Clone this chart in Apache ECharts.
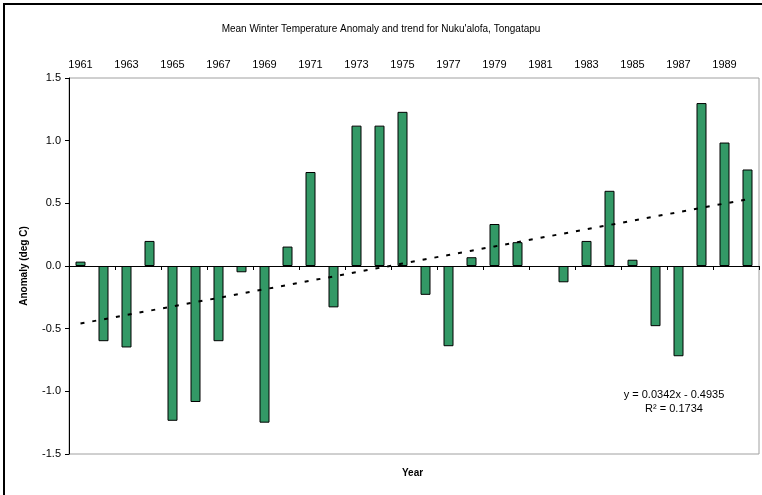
<!DOCTYPE html>
<html>
<head>
<meta charset="utf-8">
<script src="https://cdn.jsdelivr.net/npm/echarts@6/dist/echarts.min.js"></script>
<style>
  html, body { margin: 0; padding: 0; background: #fff; }
  #chart { width: 762px; height: 495px; }
</style>
</head>
<body>
<div id="chart"></div>
<script>
// data
const years = ['1961','1962','1963','1964','1965','1966','1967','1968','1969','1970',
  '1971','1972','1973','1974','1975','1976','1977','1978','1979','1980',
  '1981','1982','1983','1984','1985','1986','1987','1988','1989','1990']
const anomaly = [0.035, -0.60, -0.65, 0.20, -1.235, -1.085, -0.60, -0.05, -1.25, 0.155,
  0.75, -0.33, 1.12, 1.12, 1.23, -0.23, -0.64, 0.07, 0.335, 0.19,
  null, -0.13, 0.20, 0.60, 0.05, -0.48, -0.72, 1.30, 0.985, 0.77]
const yTicks = [-1.5, -1.0, -0.5, 0.0, 0.5, 1.0, 1.5]

// linear trend as printed on the chart
const slope = 0.0342
const intercept = -0.4935
const trend = years.map((y, i) => +(slope * (i + 1) + intercept).toFixed(4))

const font = 'Liberation Sans, Arial, sans-serif'
const myChart = echarts.init(document.getElementById('chart'))

const option = {
  animation: false,
  backgroundColor: '#fff',
  title: {
    text: "Mean Winter Temperature Anomaly and trend for Nuku'alofa, Tongatapu",
    left: 'center',
    top: 19,
    textStyle: { color: '#000', fontSize: 10, fontWeight: 'normal', fontFamily: font }
  },
  grid: {
    left: 69, right: 3, top: 78, bottom: 41,
    show: true,
    borderColor: '#a0a0a0',
    borderWidth: 1
  },
  xAxis: [
    {
      type: 'category',
      data: years,
      position: 'bottom',
      axisLine: { onZero: true, lineStyle: { color: '#000', width: 1 } },
      axisTick: { show: true, length: 4, lineStyle: { color: '#000' } },
      axisLabel: { show: false },
      splitLine: { show: false }
    },
    {
      type: 'category',
      data: years,
      position: 'top',
      axisLine: { show: false, onZero: false },
      axisTick: { show: false },
      axisLabel: {
        interval: 1,
        margin: 8,
        color: '#000',
        fontSize: 11,
        fontFamily: font
      },
      splitLine: { show: false }
    }
  ],
  yAxis: {
    type: 'value',
    min: yTicks[0],
    max: yTicks[yTicks.length - 1],
    interval: 0.5,
    name: 'Anomaly (deg C)',
    nameLocation: 'middle',
    nameGap: 40,
    nameTextStyle: { color: '#000', fontSize: 10, fontWeight: 'bold', fontFamily: font },
    axisLine: { show: true, lineStyle: { color: '#000', width: 1 } },
    axisTick: { show: true, length: 4, lineStyle: { color: '#000' } },
    axisLabel: {
      color: '#000',
      fontSize: 11,
      fontFamily: font,
      margin: 8,
      formatter: v => v.toFixed(1)
    },
    splitLine: { show: false }
  },
  series: [
    {
      name: 'Anomaly',
      type: 'bar',
      xAxisIndex: 0,
      data: anomaly,
      barWidth: 10,
      itemStyle: { color: '#339966', borderColor: '#000', borderWidth: 1 }
    },
    {
      name: 'Trend',
      type: 'line',
      xAxisIndex: 0,
      data: trend,
      symbol: 'none',
      lineStyle: { color: '#000', width: 2, type: [4, 8] },
      z: 5
    }
  ],
  graphic: [
    {
      type: 'rect',
      shape: { x: 4, y: 4, width: 800, height: 600 },
      style: { fill: 'none', stroke: '#000', lineWidth: 2 },
      silent: true
    },
    {
      type: 'text',
      left: 402, top: 468,
      style: { text: 'Year', fill: '#000', font: 'bold 10px ' + font }
    },
    {
      type: 'text',
      x: 674, y: 388,
      style: {
        text: 'y = 0.0342x - 0.4935\nR\u00b2 = 0.1734',
        fill: '#000',
        font: '11px ' + font,
        align: 'center',
        lineHeight: 14
      }
    }
  ]
}

myChart.setOption(option)
</script>
</body>
</html>
